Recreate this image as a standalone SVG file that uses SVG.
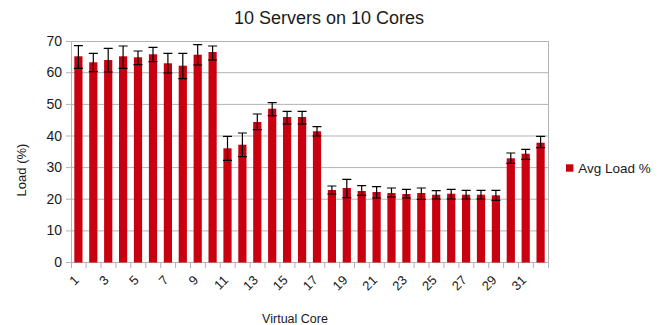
<svg xmlns="http://www.w3.org/2000/svg" width="664" height="325" viewBox="0 0 664 325">
<style>
text{font-family:"Liberation Sans",Arial,sans-serif;fill:#1a1a1a}
.grid{stroke:#b3b3b3;stroke-width:1;fill:none}
.bar{fill:#c80010}
.err{stroke:#000;stroke-width:1.2;fill:none}
.yl{font-size:14px;text-anchor:end}
.xl{font-size:13px;text-anchor:end}
</style>
<rect width="664" height="325" fill="#fff"/>
<text x="329" y="24" font-size="18" text-anchor="middle">10 Servers on 10 Cores</text>
<g id="grid">
<path class="grid" d="M71.5 41.5H548.5V262.5M71.5 72.7H548.5M71.5 104.4H548.5M71.5 136H548.5M71.5 167.6H548.5M71.5 199.2H548.5M71.5 230.9H548.5M71.5 41.5V268M66 262.5H548.5M66 41.5H71.5M66 72.7H71.5M66 104.4H71.5M66 136H71.5M66 167.6H71.5M66 199.2H71.5M66 230.9H71.5"/>
<path class="grid" d="M86.1 262.5V268M101 262.5V268M115.9 262.5V268M130.8 262.5V268M145.8 262.5V268M160.7 262.5V268M175.6 262.5V268M190.5 262.5V268M205.4 262.5V268M220.3 262.5V268M235.2 262.5V268M250.1 262.5V268M265 262.5V268M279.9 262.5V268M294.9 262.5V268M309.8 262.5V268M324.7 262.5V268M339.6 262.5V268M354.5 262.5V268M369.4 262.5V268M384.3 262.5V268M399.2 262.5V268M414.1 262.5V268M429 262.5V268M443.9 262.5V268M458.9 262.5V268M473.8 262.5V268M488.7 262.5V268M503.6 262.5V268M518.5 262.5V268M533.4 262.5V268M548.5 262.5V268"/>
</g>
<g id="y-labels">
<text class="yl" x="62" y="46">70</text>
<text class="yl" x="62" y="77.2">60</text>
<text class="yl" x="62" y="108.9">50</text>
<text class="yl" x="62" y="140.5">40</text>
<text class="yl" x="62" y="172.1">30</text>
<text class="yl" x="62" y="203.7">20</text>
<text class="yl" x="62" y="235.4">10</text>
<text class="yl" x="62" y="267">0</text>
</g>
<text transform="translate(25.5,170) rotate(-90)" font-size="13" text-anchor="middle">Load (%)</text>
<g id="bars">
<rect class="bar" x="74.3" y="56.3" width="8.2" height="206.2"/>
<rect class="bar" x="89.2" y="62.3" width="8.2" height="200.2"/>
<rect class="bar" x="104.1" y="60" width="8.2" height="202.5"/>
<rect class="bar" x="119" y="56.3" width="8.2" height="206.2"/>
<rect class="bar" x="133.9" y="57.3" width="8.2" height="205.2"/>
<rect class="bar" x="148.9" y="54.3" width="8.2" height="208.2"/>
<rect class="bar" x="163.8" y="63.3" width="8.2" height="199.2"/>
<rect class="bar" x="178.7" y="65.7" width="8.2" height="196.8"/>
<rect class="bar" x="193.6" y="54.7" width="8.2" height="207.8"/>
<rect class="bar" x="208.5" y="52" width="8.2" height="210.5"/>
<rect class="bar" x="223.4" y="148.3" width="8.2" height="114.2"/>
<rect class="bar" x="238.3" y="144.7" width="8.2" height="117.8"/>
<rect class="bar" x="253.2" y="122" width="8.2" height="140.5"/>
<rect class="bar" x="268.1" y="108.7" width="8.2" height="153.8"/>
<rect class="bar" x="283" y="117" width="8.2" height="145.5"/>
<rect class="bar" x="298" y="117" width="8.2" height="145.5"/>
<rect class="bar" x="312.9" y="131.3" width="8.2" height="131.2"/>
<rect class="bar" x="327.8" y="190" width="8.2" height="72.5"/>
<rect class="bar" x="342.7" y="188" width="8.2" height="74.5"/>
<rect class="bar" x="357.6" y="191" width="8.2" height="71.5"/>
<rect class="bar" x="372.5" y="192" width="8.2" height="70.5"/>
<rect class="bar" x="387.4" y="193" width="8.2" height="69.5"/>
<rect class="bar" x="402.3" y="194" width="8.2" height="68.5"/>
<rect class="bar" x="417.2" y="193" width="8.2" height="69.5"/>
<rect class="bar" x="432.1" y="194.7" width="8.2" height="67.8"/>
<rect class="bar" x="447.1" y="193.7" width="8.2" height="68.8"/>
<rect class="bar" x="462" y="194.7" width="8.2" height="67.8"/>
<rect class="bar" x="476.9" y="194.7" width="8.2" height="67.8"/>
<rect class="bar" x="491.8" y="195.3" width="8.2" height="67.2"/>
<rect class="bar" x="506.7" y="158.3" width="8.2" height="104.2"/>
<rect class="bar" x="521.6" y="153.7" width="8.2" height="108.8"/>
<rect class="bar" x="536.5" y="142.7" width="8.2" height="119.8"/>
</g>
<g id="error-bars">
<path class="err" d="M78.4 45.7V68.3M73.9 45.7H82.9M73.9 68.3H82.9"/>
<path class="err" d="M93.3 53.3V71.7M88.8 53.3H97.8M88.8 71.7H97.8"/>
<path class="err" d="M108.2 48.3V72M103.7 48.3H112.7M103.7 72H112.7"/>
<path class="err" d="M123.1 46V68.3M118.6 46H127.6M118.6 68.3H127.6"/>
<path class="err" d="M138 51V64.7M133.5 51H142.5M133.5 64.7H142.5"/>
<path class="err" d="M153 47.3V61.7M148.5 47.3H157.5M148.5 61.7H157.5"/>
<path class="err" d="M167.9 53.3V73M163.4 53.3H172.4M163.4 73H172.4"/>
<path class="err" d="M182.8 53.3V78.7M178.3 53.3H187.3M178.3 78.7H187.3"/>
<path class="err" d="M197.7 44.7V65M193.2 44.7H202.2M193.2 65H202.2"/>
<path class="err" d="M212.6 46V60M208.1 46H217.1M208.1 60H217.1"/>
<path class="err" d="M227.5 136.3V160.3M223 136.3H232M223 160.3H232"/>
<path class="err" d="M242.4 133V156.7M237.9 133H246.9M237.9 156.7H246.9"/>
<path class="err" d="M257.3 114V129.7M252.8 114H261.8M252.8 129.7H261.8"/>
<path class="err" d="M272.2 102.7V115.7M267.7 102.7H276.7M267.7 115.7H276.7"/>
<path class="err" d="M287.1 111.3V124M282.6 111.3H291.6M282.6 124H291.6"/>
<path class="err" d="M302.1 111.3V124M297.6 111.3H306.6M297.6 124H306.6"/>
<path class="err" d="M317 126.7V136M312.5 126.7H321.5M312.5 136H321.5"/>
<path class="err" d="M331.9 186V194M327.4 186H336.4M327.4 194H336.4"/>
<path class="err" d="M346.8 179.3V197.7M342.3 179.3H351.3M342.3 197.7H351.3"/>
<path class="err" d="M361.7 185.7V195.3M357.2 185.7H366.2M357.2 195.3H366.2"/>
<path class="err" d="M376.6 186.7V198M372.1 186.7H381.1M372.1 198H381.1"/>
<path class="err" d="M391.5 188V197M387 188H396M387 197H396"/>
<path class="err" d="M406.4 189.3V198M401.9 189.3H410.9M401.9 198H410.9"/>
<path class="err" d="M421.3 188V199.3M416.8 188H425.8M416.8 199.3H425.8"/>
<path class="err" d="M436.2 190.7V199M431.7 190.7H440.7M431.7 199H440.7"/>
<path class="err" d="M451.2 189.3V199M446.7 189.3H455.7M446.7 199H455.7"/>
<path class="err" d="M466.1 190.3V199M461.6 190.3H470.6M461.6 199H470.6"/>
<path class="err" d="M481 190.3V199M476.5 190.3H485.5M476.5 199H485.5"/>
<path class="err" d="M495.9 190.3V200.3M491.4 190.3H500.4M491.4 200.3H500.4"/>
<path class="err" d="M510.8 153V163.3M506.3 153H515.3M506.3 163.3H515.3"/>
<path class="err" d="M525.7 149.3V159.3M521.2 149.3H530.2M521.2 159.3H530.2"/>
<path class="err" d="M540.6 136.3V147.7M536.1 136.3H545.1M536.1 147.7H545.1"/>
</g>
<g id="x-labels">
<text class="xl" transform="translate(79.9,281) rotate(-45)">1</text>
<text class="xl" transform="translate(109.7,281) rotate(-45)">3</text>
<text class="xl" transform="translate(139.5,281) rotate(-45)">5</text>
<text class="xl" transform="translate(169.4,281) rotate(-45)">7</text>
<text class="xl" transform="translate(199.2,281) rotate(-45)">9</text>
<text class="xl" transform="translate(229,281) rotate(-45)">11</text>
<text class="xl" transform="translate(258.8,281) rotate(-45)">13</text>
<text class="xl" transform="translate(288.6,281) rotate(-45)">15</text>
<text class="xl" transform="translate(318.5,281) rotate(-45)">17</text>
<text class="xl" transform="translate(348.3,281) rotate(-45)">19</text>
<text class="xl" transform="translate(378.1,281) rotate(-45)">21</text>
<text class="xl" transform="translate(407.9,281) rotate(-45)">23</text>
<text class="xl" transform="translate(437.7,281) rotate(-45)">25</text>
<text class="xl" transform="translate(467.6,281) rotate(-45)">27</text>
<text class="xl" transform="translate(497.4,281) rotate(-45)">29</text>
<text class="xl" transform="translate(527.2,281) rotate(-45)">31</text>
</g>
<text x="295" y="322.5" font-size="12.5" text-anchor="middle">Virtual Core</text>
<g id="legend">
<rect class="bar" x="566" y="164.3" width="7.4" height="7.4"/>
<text x="578.3" y="173.3" font-size="13.5">Avg Load %</text>
</g>
</svg>
